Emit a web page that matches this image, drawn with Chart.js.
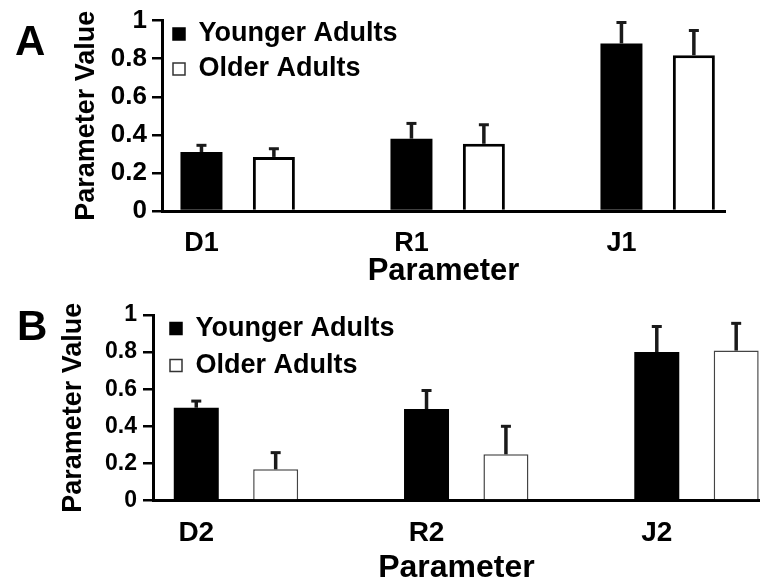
<!DOCTYPE html>
<html><head><meta charset="utf-8">
<script src="https://cdn.jsdelivr.net/npm/chart.js@4.4.1/dist/chart.umd.min.js"></script>
<style>
html,body{margin:0;padding:0;background:#fff;overflow:hidden;width:760px;height:585px;}
.panel{position:absolute;left:0;}
#wrapA{top:0;width:760px;height:290px;}
#wrapB{top:290px;width:760px;height:295px;}
.lbl{position:absolute;font:bold 42px "Liberation Sans",Arial,sans-serif;line-height:1;color:#000;}
</style></head><body>
<div id="wrapA" class="panel"><canvas id="cA" width="760" height="290"></canvas></div>
<div id="wrapB" class="panel"><canvas id="cB" width="760" height="295"></canvas></div>
<div class="lbl" style="left:15px;top:19.5px">A</div>
<div class="lbl" style="left:17px;top:304.5px">B</div>
<script>
// ---- data ----
const seriesNames = ['Younger Adults', 'Older Adults'];
const yTicks = [0, 0.2, 0.4, 0.6, 0.8, 1];

const paramsA = ['D1', 'R1', 'J1'];
const youngA = [0.31, 0.38, 0.88];
const youngErrA = [0.035, 0.08, 0.11];
const olderA = [0.284, 0.353, 0.818];
const olderErrA = [0.043, 0.10, 0.13];

const paramsB = ['D2', 'R2', 'J2'];
const youngB = [0.50, 0.493, 0.80];
const youngErrB = [0.036, 0.10, 0.138];
const olderB = [0.168, 0.249, 0.808];
const olderErrB = [0.09, 0.151, 0.147];

// ---- layout constants ----
const GROUP_STEP = 2.9;   // distance between parameter groups (in bar slots)
const FAMILY = '"Liberation Sans", Arial, sans-serif';

function pts(values, seriesIndex) {
  return values.map((v, i) => ({ x: i * GROUP_STEP + seriesIndex, y: v }));
}

const errorBars = {
  id: 'errorBars',
  afterDatasetsDraw(chart, args, opts) {
    const ctx = chart.ctx;
    const ys = chart.scales.y;
    chart.data.datasets.forEach((ds, di) => {
      const meta = chart.getDatasetMeta(di);
      meta.data.forEach((bar, i) => {
        const top = ys.getPixelForValue(ds.data[i].y + ds.errors[i]);
        ctx.save();
        ctx.strokeStyle = opts.color;
        ctx.lineWidth = opts.stemWidth;
        ctx.beginPath();
        ctx.moveTo(bar.x, bar.y);
        ctx.lineTo(bar.x, top);
        ctx.stroke();
        ctx.lineWidth = opts.capWidth;
        ctx.beginPath();
        ctx.moveTo(bar.x - opts.capHalf, top);
        ctx.lineTo(bar.x + opts.capHalf, top);
        ctx.stroke();
        ctx.restore();
      });
    });
  }
};

const legendShift = {
  id: 'legendShift',
  afterLayout(chart, args, opts) {
    const l = chart.legend;
    if (!l) return;
    l.left += opts.dx; l.right += opts.dx;
    l.top += opts.dy; l.bottom += opts.dy;
  }
};

function makeChart(id, cfg) {
  const cats = cfg.cats;
  return new Chart(document.getElementById(id), {
    type: 'bar',
    data: {
      datasets: [
        { label: seriesNames[0], data: pts(cfg.young, 0), errors: cfg.youngErr,
          backgroundColor: '#000', borderColor: '#000', borderWidth: 0 },
        { label: seriesNames[1], data: pts(cfg.older, 1), errors: cfg.olderErr,
          backgroundColor: '#fff', borderColor: cfg.oldBorder, borderWidth: cfg.oldBorderWidth }
      ]
    },
    options: {
      responsive: false,
      animation: false,
      devicePixelRatio: 1,
      grouped: false,
      maxBarThickness: cfg.barW,
      layout: { padding: cfg.pad },
      plugins: {
        tooltip: { enabled: false },
        legend: {
          position: 'chartArea',
          align: 'start',
          labels: {
            color: '#000',
            font: { family: FAMILY, weight: 'bold', size: cfg.legendSize },
            boxWidth: 12, boxHeight: 12, padding: cfg.legendPad,
            generateLabels(chart) {
              const items = Chart.defaults.plugins.legend.labels.generateLabels(chart);
              items.forEach((it, k) => { it.lineWidth = 1.5; it.strokeStyle = k === 0 ? '#000' : '#333'; });
              return items;
            }
          }
        },
        legendShift: { dx: cfg.legDx, dy: cfg.legDy },
        errorBars: { color: '#1a1a1a', stemWidth: 3.5, capWidth: 3, capHalf: 5 }
      },
      scales: {
        x: {
          type: 'linear', z: 1, offset: false,
          min: cfg.xmin, max: cfg.xmax,
          afterBuildTicks: s => { s.ticks = cats.map((c, i) => ({ value: i * GROUP_STEP })); },
          afterFit: s => { s.height = cfg.xAxisH; },
          ticks: { autoSkip: false, maxRotation: 0, color: '#000', padding: cfg.xTickPad,
                   font: { family: FAMILY, weight: 'bold', size: cfg.xTickSize },
                   callback: (v, i) => cats[i] },
          grid: { display: false, drawTicks: false },
          border: { display: true, color: '#000', width: 3 },
          title: { display: true, text: 'Parameter', color: '#000',
                   font: { family: FAMILY, weight: 'bold', size: cfg.xTitleSize, lineHeight: 1 },
                   padding: { top: 0, bottom: cfg.xTitlePad } }
        },
        y: {
          z: 1,
          min: 0, max: 1,
          afterBuildTicks: s => { s.ticks = yTicks.map(v => ({ value: v })); },
          afterFit: s => { s.width = cfg.yAxisW; },
          ticks: { color: '#000', padding: cfg.yTickPad,
                   font: { family: FAMILY, weight: 'bold', size: cfg.yTickSize },
                   callback: v => String(v) },
          grid: { drawOnChartArea: false, drawTicks: true, tickLength: 10, color: '#000', lineWidth: 2.5 },
          border: { display: true, color: '#000', width: 3 },
          title: { display: true, text: 'Parameter Value', color: '#000',
                   font: { family: FAMILY, weight: 'bold', size: 27 },
                   padding: { top: cfg.yTitlePad, bottom: 0 } }
        }
      }
    },
    plugins: [errorBars, legendShift]
  });
}

makeChart('cA', {
  cats: paramsA, young: youngA, youngErr: youngErrA, older: olderA, olderErr: olderErrA,
  oldBorder: '#000', oldBorderWidth: 3, barW: 42,
  pad: { top: 20, right: 35, bottom: 0, left: 0 },
  xmin: -0.545, xmax: 7.23, xAxisH: 79, xTickPad: 16, xTickSize: 27, xTitleSize: 31, xTitlePad: 3,
  yAxisW: 162, yTickPad: 5, yTickSize: 26, yTitlePad: 70,
  legendSize: 27, legendPad: 8, legDx: 3, legDy: 12.5
});

makeChart('cB', {
  cats: paramsB, young: youngB, youngErr: youngErrB, older: olderB, olderErr: olderErrB,
  oldBorder: '#444', oldBorderWidth: 1.5, barW: 45,
  pad: { top: 25, right: 0, bottom: 0, left: 0 },
  xmin: -0.545, xmax: 7.1, xAxisH: 84.5, xTickPad: 16, xTickSize: 28, xTitleSize: 32, xTitlePad: 1,
  yAxisW: 153, yTickPad: 6, yTickSize: 23, yTitlePad: 57,
  legendSize: 27, legendPad: 10, legDx: 7, legDy: 15
});
</script>
</body></html>
